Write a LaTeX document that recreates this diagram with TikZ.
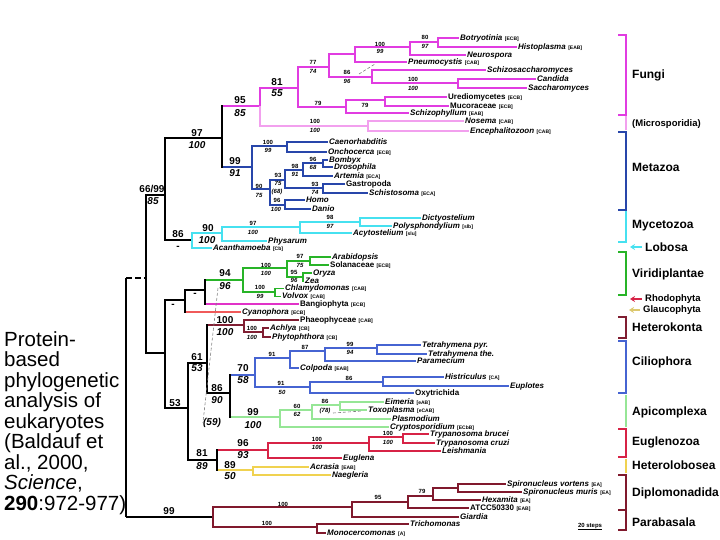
\documentclass[tikz,border=0pt]{standalone}
\usepackage{fontspec}
\setmainfont{Liberation Sans}
\usepackage{tikz}
\usetikzlibrary{arrows.meta}

\definecolor{fungi}{RGB}{225,60,225}
\definecolor{micro}{RGB}{242,160,238}
\definecolor{metaz}{RGB}{40,70,170}
\definecolor{mycet}{RGB}{70,225,240}
\definecolor{virid}{RGB}{40,180,40}
\definecolor{bangi}{RGB}{225,50,200}
\definecolor{cyano}{RGB}{240,90,90}
\definecolor{heter}{RGB}{128,30,50}
\definecolor{cilio}{RGB}{70,100,210}
\definecolor{apico}{RGB}{150,230,150}
\definecolor{eugle}{RGB}{215,35,70}
\definecolor{hlobo}{RGB}{240,210,80}
\definecolor{diplo}{RGB}{128,25,45}
\definecolor{glauc}{RGB}{220,200,110}

\newcommand{\src}[1]{\hspace{2.5pt}{\fontsize{5}{5}\selectfont\upshape\bfseries #1}}

\begin{document}
\begin{tikzpicture}[x=1pt,y=-1pt,
  br/.style={line width=1.7pt},
  bb/.style={line width=2.2pt,black},
  sp/.style={anchor=west,inner sep=1pt,text height=5.8pt,text depth=1.7pt,font=\fontsize{8}{8}\selectfont\bfseries\itshape},
  spu/.style={sp,font=\fontsize{8}{8}\selectfont\bfseries},
  bs/.style={inner sep=0pt,font=\fontsize{6}{6}\selectfont\bfseries},
  bsi/.style={inner sep=0pt,font=\fontsize{6}{6}\selectfont\bfseries\itshape},
  big/.style={inner sep=0pt,font=\fontsize{10}{10}\selectfont\bfseries},
  bigi/.style={inner sep=0pt,font=\fontsize{10}{10}\selectfont\bfseries\itshape},
  grp/.style={anchor=west,inner sep=0pt,font=\fontsize{12}{12}\selectfont\bfseries},
  grps/.style={grp,font=\fontsize{9.5}{9.5}\selectfont\bfseries},
  brk/.style={line width=1.8pt},
  alt/.style={gray,densely dashed,line width=0.6pt},
  arr/.style={line width=2pt,-{Stealth[length=5pt,width=6pt]},shorten <=3pt}]
  \useasboundingbox (0,0) rectangle (720,540);

  \node[anchor=north west,inner sep=0pt,align=left,font=\fontsize{20.5}{20.5}\selectfont] (caption) at (4,331)
    {Protein-\\based\\phylogenetic\\analysis of\\eukaryotes\\(Baldauf et\\al., 2000,\\\textit{Science},\\\textbf{290}:972-977)};

  \coordinate (R) at (126,517);
  \coordinate (B1) at (146,278);
  \coordinate (N6699) at (165,195);
  \coordinate (N97) at (222,138);
  \coordinate (N53) at (165,353);
  \coordinate (Nd1) at (185,300);
  \coordinate (Nd2) at (205,290);
  \coordinate (N53b) at (188,408);
  \coordinate (N61) at (207,363);
  \coordinate (N86) at (230,393);
  \coordinate (N81) at (217,460);

  \coordinate (F95) at (260,106);
  \coordinate (F81) at (298,88);
  \coordinate (F77) at (329,67);
  \coordinate (F100a) at (355,54);
  \coordinate (F100b) at (410,47);
  \coordinate (F80) at (438,42);
  \coordinate (F86) at (372,77);
  \coordinate (F100c) at (458,83);
  \coordinate (F79) at (346,107);
  \coordinate (F79b) at (385,100);
  \coordinate (Micro) at (368,126);

  \node[sp] (botry) at (459,38) {Botryotinia\src{[ECB]}};
  \node[sp] (histo) at (517,47) {Histoplasma\src{[EAB]}};
  \node[sp] (neuro) at (466,55) {Neurospora};
  \node[sp] (pneumo) at (407,62) {Pneumocystis\src{[CAB]}};
  \node[sp] (schizo) at (486,70) {Schizosaccharomyces};
  \node[sp] (candi) at (536,79) {Candida};
  \node[sp] (sacch) at (527,88) {Saccharomyces};
  \node[spu] (uredi) at (447,97) {Urediomycetes\src{[ECB]}};
  \node[spu] (mucor) at (449,106) {Mucoraceae\src{[ECB]}};
  \node[sp] (schph) at (409,113) {Schizophyllum\src{[EAB]}};
  \node[sp] (nosem) at (464,121) {Nosema\src{[CAB]}};
  \node[sp] (encep) at (469,131) {Encephalitozoon\src{[CAB]}};

  \coordinate (M99) at (252,167);
  \coordinate (M100) at (287,146);
  \coordinate (M90) at (270,189);
  \coordinate (M93) at (285,180);
  \coordinate (AR) at (303,170);
  \coordinate (BD) at (323,163);
  \coordinate (GS) at (323,188);
  \coordinate (HD) at (285,205);

  \node[sp] (caeno) at (328,142) {Caenorhabditis};
  \node[sp] (oncho) at (327,152) {Onchocerca\src{[ECB]}};
  \node[sp] (bomby) at (328,160) {Bombyx};
  \node[sp] (droso) at (333,167) {Drosophila};
  \node[sp] (artem) at (333,176) {Artemia\src{[ECA]}};
  \node[spu] (gastr) at (345,184) {Gastropoda};
  \node[sp] (schis) at (368,193) {Schistosoma\src{[ECA]}};
  \node[sp] (homo) at (305,200) {Homo};
  \node[sp] (danio) at (311,209) {Danio};

  \coordinate (Y86) at (192,240);
  \coordinate (Y90) at (222,233);
  \coordinate (Y97) at (300,227);
  \coordinate (Y98) at (360,222);

  \node[sp] (dicty) at (421,218) {Dictyostelium};
  \node[sp] (polys) at (392,226) {Polysphondylium\src{[slb]}};
  \node[sp] (acyto) at (352,233) {Acytostelium\src{[slu]}};
  \node[sp] (physa) at (267,241) {Physarum};
  \node[sp] (acant) at (212,248) {Acanthamoeba\src{[Cb]}};

  \coordinate (G94) at (243,280);
  \coordinate (G100a) at (287,268);
  \coordinate (G97) at (310,261);
  \coordinate (G95) at (303,277);
  \coordinate (G100b) at (275,292);

  \node[sp] (arabi) at (331,257) {Arabidopsis};
  \node[spu] (solan) at (329,265) {Solanaceae\src{[ECB]}};
  \node[sp] (oryza) at (312,273) {Oryza};
  \node[sp] (zea) at (304,281) {Zea};
  \node[sp] (chlam) at (284,288.5) {Chlamydomonas\src{[CAB]}};
  \node[sp] (volvo) at (281,296.5) {Volvox\src{[CAB]}};
  \node[spu] (bangio) at (299,304) {Bangiophyta\src{[ECB]}};
  \node[sp] (cyanop) at (241,312) {Cyanophora\src{[ECB]}};

  \coordinate (H100) at (244,325);
  \coordinate (H100b) at (263,332);

  \node[spu] (phaeo) at (299,320) {Phaeophyceae\src{[CAB]}};
  \node[sp] (achly) at (269,328) {Achlya\src{[CB]}};
  \node[sp] (phyto) at (271,337) {Phytophthora\src{[CB]}};

  \coordinate (C70) at (255,375);
  \coordinate (C91) at (290,358);
  \coordinate (C87) at (325,351);
  \coordinate (C99) at (377,348);
  \coordinate (C91b) at (310,387);
  \coordinate (C86) at (383,382);

  \node[sp] (tetr1) at (421,345) {Tetrahymena pyr.};
  \node[sp] (tetr2) at (427,354) {Tetrahymena the.};
  \node[sp] (param) at (416,361) {Paramecium};
  \node[sp] (colpo) at (299,368) {Colpoda\src{[EAB]}};
  \node[sp] (histr) at (444,377) {Histriculus\src{[CA]}};
  \node[sp] (euplo) at (509,386) {Euplotes};
  \node[spu] (oxytr) at (414,393) {Oxytrichida};

  \coordinate (A99) at (280,417);
  \coordinate (A60) at (312,410);
  \coordinate (A86) at (340,405);

  \node[sp] (eimer) at (384,402) {Eimeria\src{[eAB]}};
  \node[sp] (toxop) at (367,410) {Toxoplasma\src{[eCAB]}};
  \node[sp] (plasm) at (391,419) {Plasmodium};
  \node[sp] (crypt) at (389,427) {Cryptosporidium\src{[ECbB]}};

  \coordinate (E96) at (268,450);
  \coordinate (E100) at (369,443);
  \coordinate (E100b) at (403,437);

  \node[sp] (trypb) at (429,434) {Trypanosoma brucei};
  \node[sp] (trypc) at (435,443) {Trypanosoma cruzi};
  \node[sp] (leish) at (441,451) {Leishmania};
  \node[sp] (eugl) at (342,458) {Euglena};

  \coordinate (HL) at (253,470);

  \node[sp] (acras) at (309,467) {Acrasia\src{[EAB]}};
  \node[sp] (naegl) at (331,475) {Naegleria};

  \coordinate (D0) at (213,517);
  \coordinate (D1) at (352,507);
  \coordinate (D2) at (408,502);
  \coordinate (D3) at (433,496);
  \coordinate (D4) at (458,488);
  \coordinate (P0) at (317,527);

  \node[sp] (spir1) at (506,484) {Spironucleus vortens\src{[EA]}};
  \node[sp] (spir2) at (522,492) {Spironucleus muris\src{[EA]}};
  \node[sp] (hexam) at (481,500) {Hexamita\src{[EA]}};
  \node[spu] (atcc) at (469,508) {ATCC50330\src{[EAB]}};
  \node[sp] (giard) at (459,517) {Giardia};
  \node[sp] (trich) at (409,524) {Trichomonas};
  \node[sp] (monoc) at (326,533) {Monocercomonas\src{[A]}};

  \draw[bb] (R) -- (R |- B1) (R) -- (D0);
  \draw[bb,dash pattern=on 6pt off 3pt] (R |- B1) -- (B1);
  \draw[bb] (B1) |- (N6699) (B1) |- (N53)
    (N6699) |- (N97) (N6699) |- (Y86)
    (N53) |- (Nd1) (N53) |- (N53b)
    (Nd1) |- (Nd2)
    (N53b) |- (N61) (N53b) |- (N81)
    (N61) |- (N86);

  \draw[br,fungi] (N97) |- (F95) (F95) |- (F81)
    (F81) |- (F77) (F81) |- (F79)
    (F77) |- (F100a) (F77) |- (F86)
    (F100a) |- (F100b) (F100a) |- (pneumo.west)
    (F100b) |- (F80) (F100b) |- (neuro.west)
    (F80) |- (botry.west) (F80) |- (histo.west)
    (F86) |- (schizo.west) (F86) |- (F100c)
    (F100c) |- (candi.west) (F100c) |- (sacch.west)
    (F79) |- (F79b) (F79) |- (schph.west)
    (F79b) |- (uredi.west) (F79b) |- (mucor.west);
  \draw[br,micro] (F95) |- (Micro)
    (Micro) |- (nosem.west) (Micro) |- (encep.west);

  \draw[br,metaz] (N97) |- (M99)
    (M99) |- (M100) (M99) |- (M90)
    (M100) |- (caeno.west) (M100) |- (oncho.west)
    (M90) |- (M93) (M90) |- (HD)
    (M93) |- (AR) (M93) |- (GS)
    (AR) |- (BD) (AR) |- (artem.west)
    (BD) |- (bomby.west) (BD) |- (droso.west)
    (GS) |- (gastr.west) (GS) |- (schis.west)
    (HD) |- (homo.west) (HD) |- (danio.west);

  \draw[br,mycet] (Y86) |- (Y90) (Y86) |- (acant.west)
    (Y90) |- (Y97) (Y90) |- (physa.west)
    (Y97) |- (Y98) (Y97) |- (acyto.west)
    (Y98) |- (dicty.west) (Y98) |- (polys.west);

  \draw[br,virid] (Nd2) |- (G94)
    (G94) |- (G100a) (G94) |- (G100b)
    (G100a) |- (G97) (G100a) |- (G95)
    (G97) |- (arabi.west) (G97) |- (solan.west)
    (G95) |- (oryza.west) (G95) |- (zea.west)
    (G100b) |- (chlam.west) (G100b) |- (volvo.west);
  \draw[br,bangi] (Nd2) |- (bangio.west);
  \draw[br,cyano] (Nd1) |- (cyanop.west);

  \draw[br,heter] (N61) |- (H100)
    (H100) |- (phaeo.west) (H100) |- (H100b)
    (H100b) |- (achly.west) (H100b) |- (phyto.west);

  \draw[br,cilio] (N86) |- (C70)
    (C70) |- (C91) (C70) |- (C91b)
    (C91) |- (C87) (C91) |- (colpo.west)
    (C87) |- (C99) (C87) |- (param.west)
    (C99) |- (tetr1.west) (C99) |- (tetr2.west)
    (C91b) |- (C86) (C91b) |- (oxytr.west)
    (C86) |- (histr.west) (C86) |- (euplo.west);

  \draw[br,apico] (N86) |- (A99)
    (A99) |- (A60) (A99) |- (crypt.west)
    (A60) |- (A86) (A60) |- (plasm.west)
    (A86) |- (eimer.west) (A86) |- (toxop.west);

  \draw[br,eugle] (N81) |- (E96)
    (E96) |- (E100) (E96) |- (eugl.west)
    (E100) |- (E100b) (E100) |- (leish.west)
    (E100b) |- (trypb.west) (E100b) |- (trypc.west);
  \draw[br,hlobo] (N81) |- (HL)
    (HL) |- (acras.west) (HL) |- (naegl.west);

  \draw[br,diplo] (D0) |- (D1) (D0) |- (P0)
    (D1) |- (D2) (D1) |- (giard.west)
    (D2) |- (D3) (D2) |- (atcc.west)
    (D3) |- (D4) (D3) |- (hexam.west)
    (D4) |- (spir1.west) (D4) |- (spir2.west)
    (P0) |- (trich.west) (P0) |- (monoc.west);

  \draw[bb,line cap=rect] (N97 |- F95) -- (N97 |- M99)
    (Nd2 |- G94) -- (Nd2 |- bangio.west)
    (Nd1 |- Nd2) -- (Nd1 |- cyanop.west)
    (N61 |- H100) -- (N61 |- N86)
    (N86 |- C70) -- (N86 |- A99)
    (N81 |- E96) -- (N81 |- HL);

  \coordinate (pn1) at (359,74);
  \coordinate (pn2) at (375,64);
  \draw[alt] (pn1) -- (pn2);
  \coordinate (tx1) at (333,413);
  \coordinate (tx2) at (362,411);
  \draw[alt] (tx1) -- (tx2);
  \coordinate (alt1) at (218,288);
  \node[bigi] (alt59) at (212,423) {(59)};
  \draw[alt] (alt1) -- (alt59.west);

  \node[big] (F95a) at (240,100) {95};
  \node[bigi] (F95b) at (240,113) {85};
  \node[big] (F81a) at (277,82) {81};
  \node[bigi] (F81b) at (277,93) {55};
  \node[bs] (F77a) at (313,62) {77};
  \node[bsi] (F77b) at (313,71) {74};
  \node[bs] (F100ba) at (380,44) {100};
  \node[bsi] (F100bb) at (380,51) {99};
  \node[bs] (F80a) at (425,37) {80};
  \node[bsi] (F80b) at (425,46) {97};
  \node[bs] (F86a) at (347,72) {86};
  \node[bsi] (F86b) at (347,81) {96};
  \node[bs] (F100ca) at (413,79) {100};
  \node[bsi] (F100cb) at (413,88) {100};
  \node[bs] (F79a) at (318,103) {79};
  \node[bs] (F79ba) at (365,105) {79};
  \node[bs] (Microa) at (315,121) {100};
  \node[bsi] (Microb) at (315,130) {100};
  \node[big] (N97a) at (197,133) {97};
  \node[bigi] (N97b) at (197,145) {100};

  \node[big] (M99a) at (235,161) {99};
  \node[bigi] (M99b) at (235,173) {91};
  \node[bs] (M100a) at (268,142) {100};
  \node[bsi] (M100b) at (268,150) {99};
  \node[bs] (M90a) at (259,186) {90};
  \node[bsi] (M90b) at (259,195) {75};
  \node[bs] (M93a) at (278,175) {93};
  \node[bsi] (M93b) at (278,183) {75};
  \node[bsi] (M93c) at (277,192) {(68)};
  \node[bs] (ARa) at (295,166) {98};
  \node[bsi] (ARb) at (295,174) {91};
  \node[bs] (BDa) at (313,159) {96};
  \node[bsi] (BDb) at (313,167) {68};
  \node[bs] (GSa) at (315,184) {93};
  \node[bsi] (GSb) at (315,192) {74};
  \node[bs] (HDa) at (277,200) {96};
  \node[bsi] (HDb) at (276,209) {100};

  \node[big] (N6699a) at (152,189) {66/99};
  \node[bigi] (N6699b) at (153,201) {85};
  \node[big] (Y86a) at (178,234) {86};
  \node[big] (Y86b) at (178,248) {-};
  \node[big] (Y90a) at (208,228) {90};
  \node[bigi] (Y90b) at (207,240) {100};
  \node[bs] (Y97a) at (253,223) {97};
  \node[bsi] (Y97b) at (253,232) {100};
  \node[bs] (Y98a) at (330,217) {98};
  \node[bsi] (Y98b) at (330,226) {97};

  \node[big] (N53a) at (173,306) {-};
  \node[big] (Nd1a) at (195,295) {-};
  \node[big] (G94a) at (225,273) {94};
  \node[bigi] (G94b) at (225,286) {96};
  \node[bs] (G100aa) at (266,265) {100};
  \node[bsi] (G100ab) at (266,273) {100};
  \node[bs] (G97a) at (300,256) {97};
  \node[bsi] (G97b) at (300,265) {75};
  \node[bs] (G95a) at (294,272.5) {95};
  \node[bsi] (G95b) at (294,280) {96};
  \node[bs] (G100ba) at (260,287) {100};
  \node[bsi] (G100bb) at (260,296) {99};

  \node[big] (N53ba) at (175,403) {53};
  \node[big] (N61a) at (197,357) {61};
  \node[bigi] (N61b) at (197,368) {53};
  \node[big] (H100a) at (225,320) {100};
  \node[bigi] (H100c) at (225,332) {100};
  \node[bs] (H100ba) at (252,328) {100};
  \node[bsi] (H100bb) at (252,337) {100};
  \node[big] (N86a) at (217,388) {86};
  \node[bigi] (N86b) at (217,400) {90};
  \node[big] (C70a) at (243,368) {70};
  \node[bigi] (C70b) at (243,380) {58};
  \node[bs] (C91a) at (272,354) {91};
  \node[bs] (C87a) at (305,347) {87};
  \node[bs] (C99a) at (350,344) {99};
  \node[bsi] (C99b) at (350,352) {94};
  \node[bs] (C91ba) at (281,383) {91};
  \node[bsi] (C91bb) at (282,392) {50};
  \node[bs] (C86a) at (349,378) {86};
  \node[big] (A99a) at (253,412) {99};
  \node[bigi] (A99b) at (253,425) {100};
  \node[bs] (A60a) at (297,406) {60};
  \node[bsi] (A60b) at (297,414) {62};
  \node[bs] (A86a) at (325,401) {86};
  \node[bsi] (A86b) at (325,411) {(78)};
  \node[big] (N81a) at (202,453) {81};
  \node[bigi] (N81b) at (202,466) {89};
  \node[big] (E96a) at (243,443) {96};
  \node[bigi] (E96b) at (243,455) {93};
  \node[bs] (E100a) at (317,439) {100};
  \node[bsi] (E100c) at (317,447) {100};
  \node[bs] (E100ba) at (388,433) {100};
  \node[bsi] (E100bb) at (388,442) {100};
  \node[big] (HLa) at (230,465) {89};
  \node[bigi] (HLb) at (230,476) {50};
  \node[big] (Ra) at (169,511) {99};
  \node[bs] (D1a) at (283,504) {100};
  \node[bs] (P0a) at (267,523) {100};
  \node[bs] (D2a) at (378,497) {95};
  \node[bs] (D3a) at (422,491) {79};

  \node[bs] (scale) at (590,526) {20 steps};
  \draw[line width=0.6pt] (scale.south west) -- (scale.south east);

  \draw[brk,fungi] (618,35) -- (626,35) -- (626,115) -- (618,115);
  \draw[brk,micro] (626,116) -- (626,130);
  \draw[brk,metaz] (618,132) -- (626,132) -- (626,210) -- (618,210);
  \draw[brk,mycet] (626,211) -- (626,242) -- (618,242);
  \draw[brk,virid] (618,252) -- (626,252) -- (626,295) -- (618,295);
  \draw[brk,heter] (618,317) -- (626,317) -- (626,338) -- (618,338);
  \draw[brk,cilio] (618,341) -- (626,341) -- (626,393) -- (618,393);
  \draw[brk,apico] (626,395) -- (626,427);
  \draw[brk,eugle] (618,429) -- (626,429) -- (626,457) -- (618,457);
  \draw[brk,hlobo] (626,459) -- (626,473);
  \draw[brk,diplo] (618,475) -- (626,475) -- (626,510) -- (618,510);
  \draw[brk,diplo] (626,510) -- (626,530) -- (618,530);

  \node[grp] (gfun) at (632,75) {Fungi};
  \node[grps] (gmic) at (632,124) {(Microsporidia)};
  \node[grp] (gmet) at (632,167) {Metazoa};
  \node[grp] (gmyc) at (632,226) {Mycetozoa};
  \node[grp] (glob) at (645,247) {Lobosa};
  \node[grp] (gvir) at (632,274) {Viridiplantae};
  \node[grps] (grho) at (645,299) {Rhodophyta};
  \node[grps] (ggla) at (643,310) {Glaucophyta};
  \node[grp] (ghet) at (632,327) {Heterokonta};
  \node[grp] (gcil) at (632,362) {Ciliophora};
  \node[grp] (gapi) at (632,412) {Apicomplexa};
  \node[grp] (geug) at (632,442) {Euglenozoa};
  \node[grp] (ghlo) at (632,465) {Heterolobosea};
  \node[grp] (gdip) at (632,493) {Diplomonadida};
  \node[grp] (gpar) at (632,522) {Parabasala};

  \coordinate (lobtip) at (630,247);
  \coordinate (rhotip) at (630,299);
  \coordinate (glatip) at (629,310);
  \draw[arr,mycet] (glob.west) -- (lobtip);
  \draw[arr,eugle] (grho.west) -- (rhotip);
  \draw[arr,glauc] (ggla.west) -- (glatip);
\end{tikzpicture}
\end{document}
